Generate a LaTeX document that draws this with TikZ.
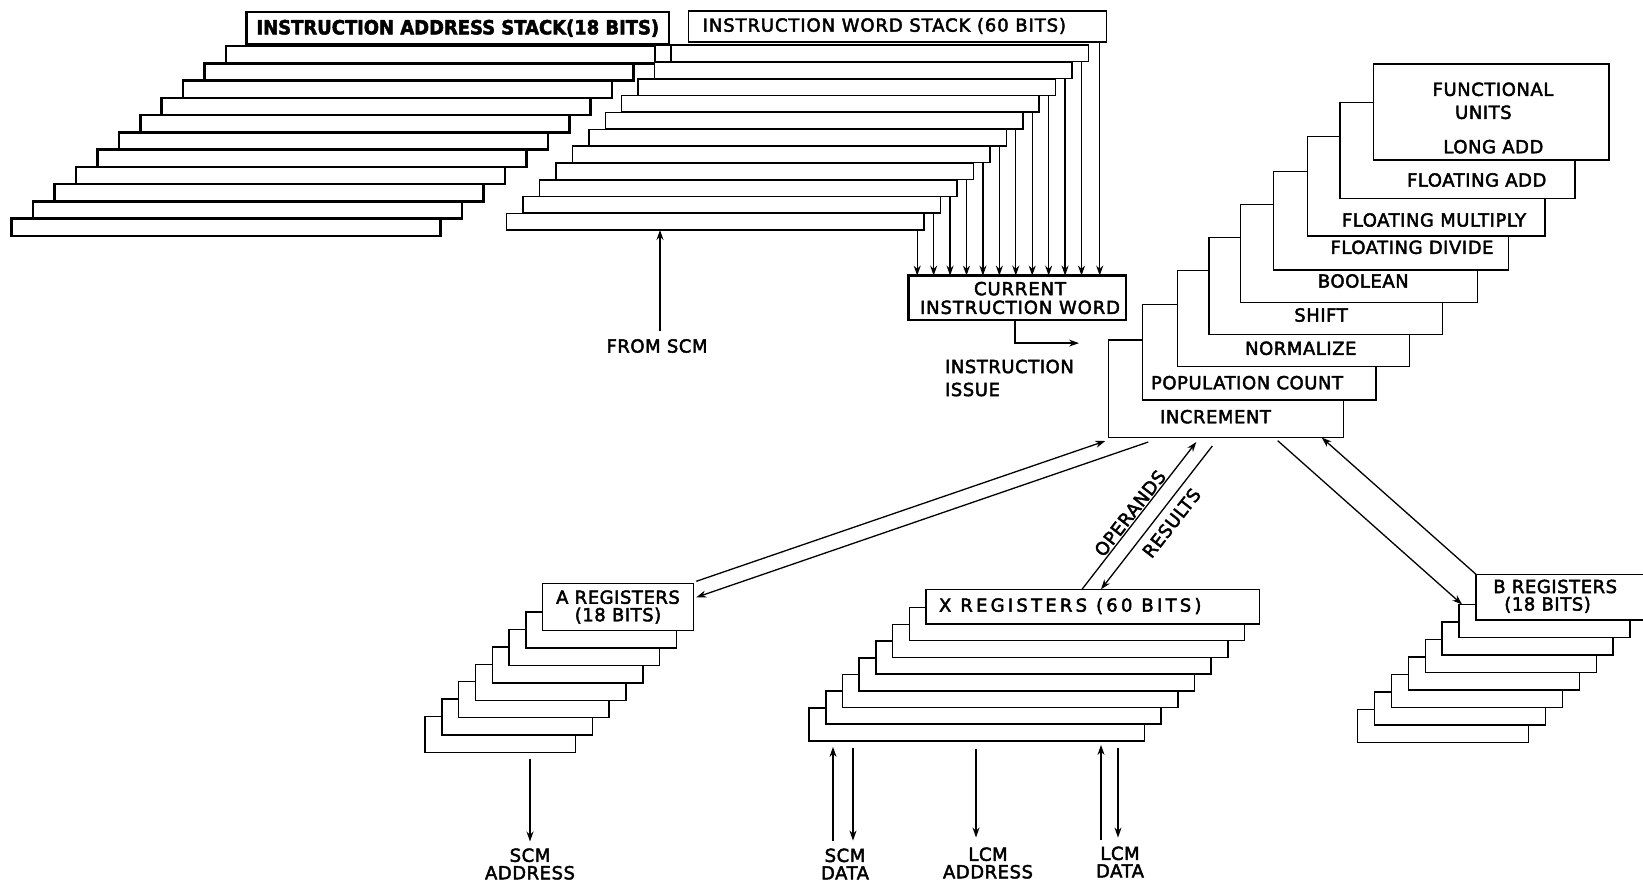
\documentclass[tikz,border=0pt]{standalone}
\usepackage{fontspec}
\setmainfont[LetterSpace=3,FakeBold=2.5]{DejaVu Sans}
\usetikzlibrary{arrows.meta}
\usetikzlibrary{positioning,calc}

\newcommand{\lettering}{\fontsize{18}{17.5}\selectfont}

\begin{document}
\begin{tikzpicture}[
  x=1pt, y=-1pt,
  every node/.style={font=\lettering, inner sep=0pt, outer sep=0pt},
  row/.style={draw, fill=white, line width=1.5pt, anchor=south west},
  heavyrow/.style={row, line width=2.6pt},
  topbox/.style={draw, fill=white, line width=1.5pt, anchor=north west},
  conn/.style={line width=1.3pt, -{Stealth[length=10pt,width=7pt]}},
  lbl/.style={align=center}
]
\clip (0,0) rectangle (1643,894);
\fill[white] (0,0) rectangle (1643,894);

% instruction address stack (back rows first)
\foreach \i in {11,...,1}
  \node[heavyrow, minimum width=429pt, minimum height=17.3pt] (ia\i) at ({226-21.43*(\i-1)},{63.3+17.27*(\i-1)}) {};
\node[topbox, line width=2.8pt, minimum width=422.3pt, minimum height=32.5pt,
  font=\bfseries\fontsize{19.5}{19.5}\selectfont\addfontfeature{LetterSpace=0,FakeStretch=0.92}] (iastack) at (246.7,12) {INSTRUCTION ADDRESS STACK(18 BITS)};

% instruction word stack
\foreach \i in {11,...,1}
  \node[row, minimum width=417.5pt, minimum height=16.5pt] (ws\i) at ({671-16.43*(\i-1)},{61.7+16.83*(\i-1)}) {};
\node[topbox, minimum width=418.4pt, minimum height=31pt] (ws0) at (688.3,11) {};
\node[anchor=west, font=\lettering\addfontfeature{LetterSpace=5}] (wslbl) at (702.7,26) {INSTRUCTION WORD STACK (60 BITS)};

% current instruction word
\node[topbox, line width=2.6pt, minimum width=217.7pt, minimum height=44.5pt] (ciw) at (908.3,275.6) {};
\node[lbl, font=\fontsize{18}{18.7}\selectfont\addfontfeature{LetterSpace=5}] (ciwlbl) at (1020,298) {CURRENT\\INSTRUCTION WORD};
\foreach \k in {0,...,11}
  \draw[conn] ($(ws\k.south east)+(-7,0)$) -- ($(ws\k.south east |- ciw.north)+(-7,0)$);

\coordinate (issueEnd) at ($(ciw.south west)+(170.7,23)$);
\draw[conn] ($(ciw.south west)+(106.7,0)$) |- (issueEnd);
\node[anchor=west, align=left, font=\fontsize{18}{23}\selectfont] (issue) at (945,378) {INSTRUCTION\\ISSUE};

\node (fromscm) at (657,346) {FROM SCM};
\draw[conn] ($(fromscm.north)+(3,-8)$) -- ($(fromscm.north |- ws11.south)+(3,0)$);

% functional units, back to front
\foreach \k/\l/\t/\w/\h in {9/1108.3/340/235/97.7, 8/1142.3/304.3/233.7/95.7,
    7/1177.3/270.7/232/96, 6/1209/237.7/233.3/96.6, 5/1240.7/204.3/237/98,
    4/1273.3/171.7/235/98.3, 3/1307.3/136.7/237.7/99.3, 2/1340/102.3/235/96,
    1/1373.3/64/235.7/96}
  \node[topbox, minimum width=\w pt, minimum height=\h pt] (fu\k) at (\l,\t) {};
\node (futitle) at (1493,89.3) {FUNCTIONAL};
\node (fuunits) at (1483.4,112.3) {UNITS};
\foreach \k/\lx/\ly/\txt in {1/1493.4/146.7/LONG ADD, 2/1476.7/180/FLOATING ADD,
    3/1434/220/FLOATING MULTIPLY, 4/1412/247.3/FLOATING DIVIDE, 5/1363.3/281/BOOLEAN,
    6/1321/315/SHIFT, 7/1300.8/348.3/NORMALIZE, 8/1247/382.7/POPULATION COUNT,
    9/1215.5/416.7/INCREMENT}
  \node (fulab\k) at (\lx,\ly) {\txt};

% A registers
\foreach \i in {7,...,1}
  \node[row, minimum width=150.5pt, minimum height=36pt] (a\i) at ({542.7-16.8*\i},{630.7+17.4*\i}) {};
\node[topbox, minimum width=150.6pt, minimum height=47.4pt, align=center] (areg) at (542.7,583.3) {A REGISTERS\\(18 BITS)};

% X registers
\foreach \i in {7,...,1}
  \node[row, minimum width=335.3pt, minimum height=33pt] (x\i) at ({926-16.7*\i},{624+16.7*\i}) {};
\node[topbox, minimum width=333.3pt, minimum height=34.7pt] (xreg) at (926,589.3) {};
\node[anchor=west, font=\lettering\addfontfeature{LetterSpace=18}] (xlbl) at (939,606) {X REGISTERS (60 BITS)};

% B registers
\foreach \i in {7,...,1}
  \node[row, minimum width=171pt, minimum height=33pt] (b\i) at ({1476-16.9*\i},{620+17.5*\i}) {};
\node[topbox, minimum width=180pt, minimum height=45.7pt] (breg) at (1476,574.3) {};
\node[anchor=west, align=left] (blbl) at (1493.3,596.3) {B REGISTERS\\\hspace*{11pt}(18 BITS)};

% links to the functional units
\draw[conn] ($(areg.north east)+(3,-2)$) -- ($(fu9.south west)+(-3,3.3)$);
\draw[conn] ($(fu9.south west)+(40,4.3)$) -- ($(areg.north east)+(3,14)$);
\draw[conn] ($(xreg.north west)+(156,0)$) -- ($(fu9.south west)+(88,4.3)$);
\draw[conn] ($(fu9.south west)+(104,8.3)$) -- ($(xreg.north west)+(175,0)$);
\node[rotate=52] (operands) at (1130,513.3) {OPERANDS};
\node[rotate=52] (results) at (1171.5,523) {RESULTS};
\draw[conn] ($(fu9.south east)+(-65.6,3)$) -- ($(b1.north west)+(3,0)$);
\draw[conn] (breg.north west) -- ($(fu9.south east)+(-21.6,-0.2)$);

% memory connections
\node[lbl] (scmaddr) at (530,864) {SCM\\ADDRESS};
\node[lbl] (scmdata) at (845,864) {SCM\\DATA};
\node[lbl] (lcmaddr) at (988,863) {LCM\\ADDRESS};
\node[lbl] (lcmdata) at (1120,862) {LCM\\DATA};
\draw[conn] ($(a7.south -| scmaddr.north)+(0,6)$) -- ($(scmaddr.north)+(0,-7)$);
\draw[conn] ($(scmdata.north)+(-12,-8)$) -- ($(scmdata.north |- x7.south)+(-12,6)$);
\draw[conn] ($(scmdata.north |- x7.south)+(8,7)$) -- ($(scmdata.north)+(8,-8)$);
\draw[conn] ($(lcmaddr.north |- x7.south)+(-12,8)$) -- ($(lcmaddr.north)+(-12,-10)$);
\draw[conn] ($(lcmdata.north)+(-19,-7)$) -- ($(lcmdata.north |- x7.south)+(-19,4)$);
\draw[conn] ($(lcmdata.north |- x7.south)+(-2,7)$) -- ($(lcmdata.north)+(-2,-9)$);
\end{tikzpicture}
\end{document}
